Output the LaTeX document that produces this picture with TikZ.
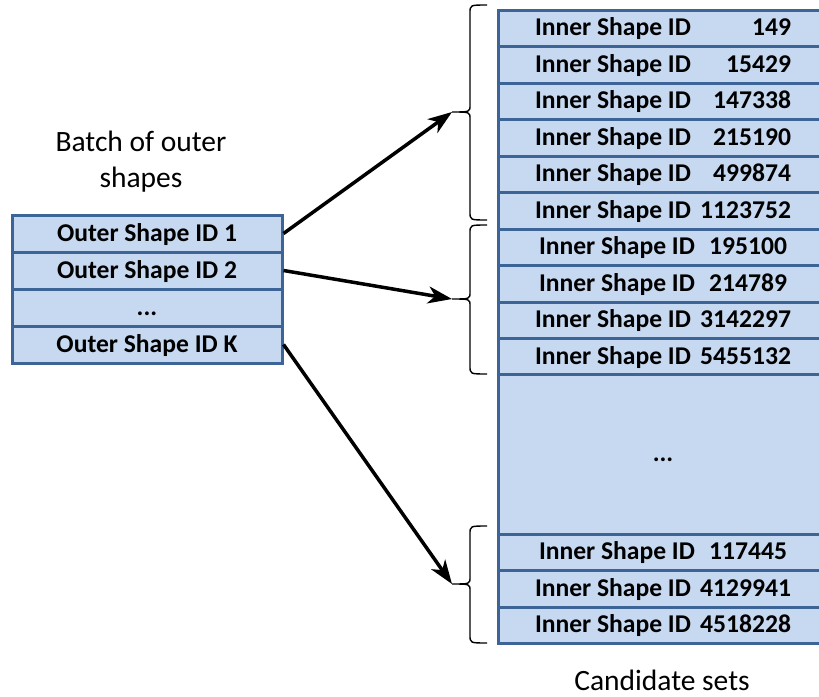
\documentclass[tikz,border=0pt]{standalone}
\usepackage{fontspec}
\setmainfont{Carlito}
\usetikzlibrary{arrows.meta}
\definecolor{cellfill}{HTML}{C6D9F1}
\definecolor{cellline}{HTML}{3D6496}
% label of one inner shape: name on the left, id on the right, in a box of given width
\newcommand\innerid[2]{\makebox[#1pt]{Inner Shape ID\hfill #2}}
% left-pointing brace: top y, tip y, bottom y, name of the tip coordinate
\newcommand\setbrace[4]{%
  \draw[bracel] (487,#1) .. controls (470,#1) .. (470,#1+8)
    -- (470,#2-7) .. controls (470,#2) .. (452,#2)
    .. controls (470,#2) .. (470,#2+7)
    -- (470,#3-8) .. controls (470,#3) .. (487,#3);
  \coordinate (#4) at (452,#2);}
\begin{document}
\begin{tikzpicture}[x=1pt,y=-1pt,
  cell/.style={draw=cellline, fill=cellfill, line width=3pt, inner sep=0pt,
    minimum width=330pt, minimum height=36.5pt, text height=19.5pt, text depth=4.5pt,
    font=\fontsize{25.6}{30}\selectfont\bfseries},
  outercell/.style={cell, minimum width=270pt, minimum height=37pt},
  bracel/.style={line width=1.4pt, black},
  arr/.style={line width=3.5pt, -{Stealth[length=24pt,width=17pt,inset=7pt]}},
  caption/.style={font=\fontsize{29.5}{36}\selectfont, align=center}]
\path[use as bounding box, clip] (0,0) rectangle (819,696);

% batch of outer shapes
\node[caption] (batch) at (141,162) {Batch of outer\\shapes};
\node[outercell] (o1) at (147,233.5) {Outer Shape ID 1};
\node[outercell] (o2) at (147,270.5) {Outer Shape ID 2};
\node[outercell] (o3) at (147,307.5) {...};
\node[outercell] (o4) at (147,344.5) {Outer Shape ID K};

% candidate sets column
\node[cell] (r1)  at (663,28.25)  {\innerid{256}{149}};
\node[cell] (r2)  at (663,64.75)  {\innerid{256}{15429}};
\node[cell] (r3)  at (663,101.25) {\innerid{256}{147338}};
\node[cell] (r4)  at (663,137.75) {\innerid{256}{215190}};
\node[cell] (r5)  at (663,174.25) {\innerid{256}{499874}};
\node[cell] (r6)  at (663,210.75) {\innerid{256}{1123752}};
\node[cell] (r7)  at (663,247.25) {\innerid{248}{195100}};
\node[cell] (r8)  at (663,283.75) {\innerid{248}{214789}};
\node[cell] (r9)  at (663,320.25) {\innerid{256}{3142297}};
\node[cell] (r10) at (663,356.75) {\innerid{256}{5455132}};
\node[cell, minimum height=159.5pt] (rgap) at (663,454.25) {...};
\node[cell] (r11) at (663,552.25) {\innerid{248}{117445}};
\node[cell] (r12) at (663,588.75) {\innerid{256}{4129941}};
\node[cell] (r13) at (663,625.25) {\innerid{256}{4518228}};
\node[caption] (cand) at (662,680) {Candidate sets};

% braces grouping each candidate set
\setbrace{5}{112}{220}{b1}
\setbrace{225}{299}{374}{b2}
\setbrace{526}{584}{643}{b3}

% outer shape -> its candidate set
\draw[arr] (o1.east) -- (b1);
\draw[arr] (o2.east) -- (b2);
\draw[arr] (o4.east) -- (b3);
\end{tikzpicture}
\end{document}
